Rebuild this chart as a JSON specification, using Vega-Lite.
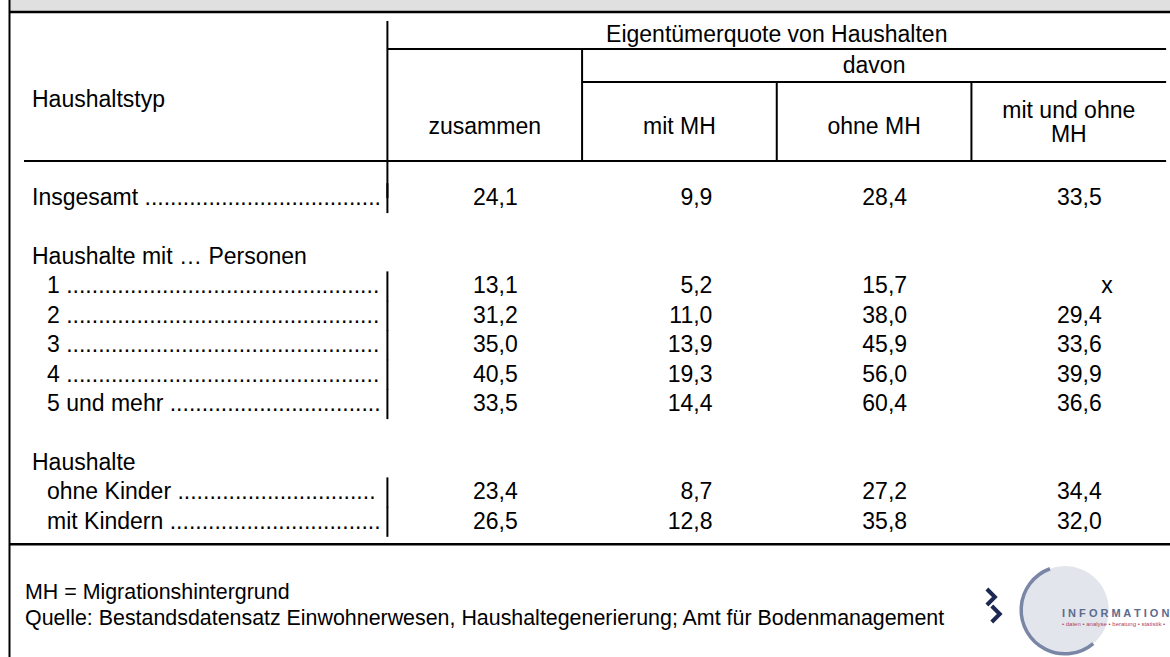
{
  "$schema": "https://vega.github.io/schema/vega-lite/v6.json",
  "width": 1170,
  "height": 657,
  "autosize": "none",
  "padding": 0,
  "background": "#ffffff",
  "config": {
    "view": {"stroke": null},
    "locale": {"number": {"decimal": ",", "thousands": ".", "grouping": [3], "currency": ["", " €"]}},
    "text": {"font": "Liberation Sans", "fontSize": 23, "color": "#000000", "baseline": "middle"},
    "rule": {"color": "#000000", "strokeWidth": 2}
  },
  "datasets": {
    "tabelle": [
      {"Haushaltstyp": "Insgesamt .....................................", "Ebene": 0, "Zeile": 0, "zusammen": 24.1, "mitMH": 9.9, "ohneMH": 28.4, "mitUndOhneMH": 33.5},
      {"Haushaltstyp": "Haushalte mit … Personen", "Ebene": 0, "Zeile": 2, "zusammen": null, "mitMH": null, "ohneMH": null, "mitUndOhneMH": null},
      {"Haushaltstyp": "1 .................................................", "Ebene": 1, "Zeile": 3, "zusammen": 13.1, "mitMH": 5.2, "ohneMH": 15.7, "mitUndOhneMH": null},
      {"Haushaltstyp": "2 .................................................", "Ebene": 1, "Zeile": 4, "zusammen": 31.2, "mitMH": 11.0, "ohneMH": 38.0, "mitUndOhneMH": 29.4},
      {"Haushaltstyp": "3 .................................................", "Ebene": 1, "Zeile": 5, "zusammen": 35.0, "mitMH": 13.9, "ohneMH": 45.9, "mitUndOhneMH": 33.6},
      {"Haushaltstyp": "4 .................................................", "Ebene": 1, "Zeile": 6, "zusammen": 40.5, "mitMH": 19.3, "ohneMH": 56.0, "mitUndOhneMH": 39.9},
      {"Haushaltstyp": "5 und mehr .................................", "Ebene": 1, "Zeile": 7, "zusammen": 33.5, "mitMH": 14.4, "ohneMH": 60.4, "mitUndOhneMH": 36.6},
      {"Haushaltstyp": "Haushalte", "Ebene": 0, "Zeile": 9, "zusammen": null, "mitMH": null, "ohneMH": null, "mitUndOhneMH": null},
      {"Haushaltstyp": "ohne Kinder ...............................", "Ebene": 1, "Zeile": 10, "zusammen": 23.4, "mitMH": 8.7, "ohneMH": 27.2, "mitUndOhneMH": 34.4},
      {"Haushaltstyp": "mit Kindern .................................", "Ebene": 1, "Zeile": 11, "zusammen": 26.5, "mitMH": 12.8, "ohneMH": 35.8, "mitUndOhneMH": 32.0}
    ]
  },
  "data": {"name": "tabelle"},
  "layer": [
    {
      "data": {"values": [{}]},
      "mark": {"type": "rect", "color": "#e0e0e0"},
      "encoding": {
        "x": {"datum": 0.0588, "type": "quantitative", "scale": {"domain": [0.01, 6.02], "nice": false, "zero": false}, "axis": null},
        "x2": {"datum": 6.02},
        "y": {"datum": -6.731, "type": "quantitative", "scale": {"domain": [-6.731, 15.593], "reverse": true, "nice": false, "zero": false}, "axis": null},
        "y2": {"datum": -6.3574}
      }
    },
    {
      "data": {"values": [{}]},
      "mark": {"type": "rule", "strokeWidth": 2.5},
      "encoding": {
        "x": {"datum": 0.0588, "type": "quantitative", "scale": {"domain": [0.01, 6.02], "nice": false, "zero": false}, "axis": null},
        "x2": {"datum": 6.02},
        "y": {"datum": -6.3235, "type": "quantitative", "scale": {"domain": [-6.731, 15.593], "reverse": true, "nice": false, "zero": false}, "axis": null}
      }
    },
    {
      "data": {"values": [{}]},
      "mark": {"type": "rule", "strokeWidth": 2},
      "encoding": {
        "x": {"datum": 0.0588, "type": "quantitative", "scale": {"domain": [0.01, 6.02], "nice": false, "zero": false}, "axis": null},
        "y": {"datum": -6.731, "type": "quantitative", "scale": {"domain": [-6.731, 15.593], "reverse": true, "nice": false, "zero": false}, "axis": null},
        "y2": {"datum": 15.593}
      }
    },
    {
      "data": {"values": [{}]},
      "mark": {"type": "rule", "strokeWidth": 2},
      "encoding": {
        "x": {"datum": 2, "type": "quantitative", "scale": {"domain": [0.01, 6.02], "nice": false, "zero": false}, "axis": null},
        "x2": {"datum": 6},
        "y": {"datum": -5.0663, "type": "quantitative", "scale": {"domain": [-6.731, 15.593], "reverse": true, "nice": false, "zero": false}, "axis": null}
      }
    },
    {
      "data": {"values": [{}]},
      "mark": {"type": "rule", "strokeWidth": 2},
      "encoding": {
        "x": {"datum": 3, "type": "quantitative", "scale": {"domain": [0.01, 6.02], "nice": false, "zero": false}, "axis": null},
        "x2": {"datum": 6},
        "y": {"datum": -3.945, "type": "quantitative", "scale": {"domain": [-6.731, 15.593], "reverse": true, "nice": false, "zero": false}, "axis": null}
      }
    },
    {
      "data": {"values": [{}]},
      "mark": {"type": "rule", "strokeWidth": 2},
      "encoding": {
        "x": {"datum": 0.1333, "type": "quantitative", "scale": {"domain": [0.01, 6.02], "nice": false, "zero": false}, "axis": null},
        "x2": {"datum": 6},
        "y": {"datum": -1.2606, "type": "quantitative", "scale": {"domain": [-6.731, 15.593], "reverse": true, "nice": false, "zero": false}, "axis": null}
      }
    },
    {
      "data": {"values": [{}]},
      "mark": {"type": "rule", "strokeWidth": 2},
      "encoding": {
        "x": {"datum": 2, "type": "quantitative", "scale": {"domain": [0.01, 6.02], "nice": false, "zero": false}, "axis": null},
        "y": {"datum": -6.0177, "type": "quantitative", "scale": {"domain": [-6.731, 15.593], "reverse": true, "nice": false, "zero": false}, "axis": null},
        "y2": {"datum": 0}
      }
    },
    {
      "data": {"values": [{}]},
      "mark": {"type": "rule", "strokeWidth": 2},
      "encoding": {
        "x": {"datum": 3, "type": "quantitative", "scale": {"domain": [0.01, 6.02], "nice": false, "zero": false}, "axis": null},
        "y": {"datum": -5.0663, "type": "quantitative", "scale": {"domain": [-6.731, 15.593], "reverse": true, "nice": false, "zero": false}, "axis": null},
        "y2": {"datum": -1.2606}
      }
    },
    {
      "data": {"values": [{}]},
      "mark": {"type": "rule", "strokeWidth": 2},
      "encoding": {
        "x": {"datum": 4, "type": "quantitative", "scale": {"domain": [0.01, 6.02], "nice": false, "zero": false}, "axis": null},
        "y": {"datum": -3.945, "type": "quantitative", "scale": {"domain": [-6.731, 15.593], "reverse": true, "nice": false, "zero": false}, "axis": null},
        "y2": {"datum": -1.2606}
      }
    },
    {
      "data": {"values": [{}]},
      "mark": {"type": "rule", "strokeWidth": 2},
      "encoding": {
        "x": {"datum": 5, "type": "quantitative", "scale": {"domain": [0.01, 6.02], "nice": false, "zero": false}, "axis": null},
        "y": {"datum": -3.945, "type": "quantitative", "scale": {"domain": [-6.731, 15.593], "reverse": true, "nice": false, "zero": false}, "axis": null},
        "y2": {"datum": -1.2606}
      }
    },
    {
      "data": {"values": [{}]},
      "mark": {"type": "rule", "strokeWidth": 2.5},
      "encoding": {
        "x": {"datum": 0.0588, "type": "quantitative", "scale": {"domain": [0.01, 6.02], "nice": false, "zero": false}, "axis": null},
        "x2": {"datum": 6.02},
        "y": {"datum": 11.7626, "type": "quantitative", "scale": {"domain": [-6.731, 15.593], "reverse": true, "nice": false, "zero": false}, "axis": null}
      }
    },
    {
      "transform": [{"filter": {"field": "zusammen", "valid": true}}],
      "mark": {"type": "tick", "orient": "vertical", "thickness": 2, "size": 30, "color": "#000000", "opacity": 1},
      "encoding": {
        "x": {"datum": 2, "type": "quantitative", "scale": {"domain": [0.01, 6.02], "nice": false, "zero": false}, "axis": null},
        "y": {"field": "Zeile", "type": "quantitative", "scale": {"domain": [-6.731, 15.593], "reverse": true, "nice": false, "zero": false}, "axis": null}
      }
    },
    {
      "data": {"values": [{}]},
      "mark": {"type": "text", "align": "center"},
      "encoding": {
        "x": {"datum": 4, "type": "quantitative", "scale": {"domain": [0.01, 6.02], "nice": false, "zero": false}, "axis": null},
        "y": {"datum": -5.542, "type": "quantitative", "scale": {"domain": [-6.731, 15.593], "reverse": true, "nice": false, "zero": false}, "axis": null},
        "text": {"value": "Eigentümerquote von Haushalten"}
      }
    },
    {
      "data": {"values": [{}]},
      "mark": {"type": "text", "align": "center"},
      "encoding": {
        "x": {"datum": 4.5, "type": "quantitative", "scale": {"domain": [0.01, 6.02], "nice": false, "zero": false}, "axis": null},
        "y": {"datum": -4.4886, "type": "quantitative", "scale": {"domain": [-6.731, 15.593], "reverse": true, "nice": false, "zero": false}, "axis": null},
        "text": {"value": "davon"}
      }
    },
    {
      "data": {"values": [{}]},
      "mark": {"type": "text", "align": "left"},
      "encoding": {
        "x": {"datum": 0.1744, "type": "quantitative", "scale": {"domain": [0.01, 6.02], "nice": false, "zero": false}, "axis": null},
        "y": {"datum": -3.3333, "type": "quantitative", "scale": {"domain": [-6.731, 15.593], "reverse": true, "nice": false, "zero": false}, "axis": null},
        "text": {"value": "Haushaltstyp"}
      }
    },
    {
      "data": {"values": [{}]},
      "mark": {"type": "text", "align": "center"},
      "encoding": {
        "x": {"datum": 2.5, "type": "quantitative", "scale": {"domain": [0.01, 6.02], "nice": false, "zero": false}, "axis": null},
        "y": {"datum": -2.4159, "type": "quantitative", "scale": {"domain": [-6.731, 15.593], "reverse": true, "nice": false, "zero": false}, "axis": null},
        "text": {"value": "zusammen"}
      }
    },
    {
      "data": {"values": [{}]},
      "mark": {"type": "text", "align": "center"},
      "encoding": {
        "x": {"datum": 3.5, "type": "quantitative", "scale": {"domain": [0.01, 6.02], "nice": false, "zero": false}, "axis": null},
        "y": {"datum": -2.4159, "type": "quantitative", "scale": {"domain": [-6.731, 15.593], "reverse": true, "nice": false, "zero": false}, "axis": null},
        "text": {"value": "mit MH"}
      }
    },
    {
      "data": {"values": [{}]},
      "mark": {"type": "text", "align": "center"},
      "encoding": {
        "x": {"datum": 4.5, "type": "quantitative", "scale": {"domain": [0.01, 6.02], "nice": false, "zero": false}, "axis": null},
        "y": {"datum": -2.4159, "type": "quantitative", "scale": {"domain": [-6.731, 15.593], "reverse": true, "nice": false, "zero": false}, "axis": null},
        "text": {"value": "ohne MH"}
      }
    },
    {
      "data": {"values": [{}]},
      "mark": {"type": "text", "align": "center", "lineHeight": 24},
      "encoding": {
        "x": {"datum": 5.5, "type": "quantitative", "scale": {"domain": [0.01, 6.02], "nice": false, "zero": false}, "axis": null},
        "y": {"datum": -2.96, "type": "quantitative", "scale": {"domain": [-6.731, 15.593], "reverse": true, "nice": false, "zero": false}, "axis": null},
        "text": {"value": ["mit und ohne", "MH"]}
      }
    },
    {
      "transform": [{"filter": "datum.Ebene === 0"}],
      "mark": {"type": "text", "align": "left"},
      "encoding": {
        "x": {"datum": 0.1744, "type": "quantitative", "scale": {"domain": [0.01, 6.02], "nice": false, "zero": false}, "axis": null},
        "y": {"field": "Zeile", "type": "quantitative", "scale": {"domain": [-6.731, 15.593], "reverse": true, "nice": false, "zero": false}, "axis": null},
        "text": {"field": "Haushaltstyp"}
      }
    },
    {
      "transform": [{"filter": "datum.Ebene === 1"}],
      "mark": {"type": "text", "align": "left"},
      "encoding": {
        "x": {"datum": 0.2514, "type": "quantitative", "scale": {"domain": [0.01, 6.02], "nice": false, "zero": false}, "axis": null},
        "y": {"field": "Zeile", "type": "quantitative", "scale": {"domain": [-6.731, 15.593], "reverse": true, "nice": false, "zero": false}, "axis": null},
        "text": {"field": "Haushaltstyp"}
      }
    },
    {
      "transform": [{"filter": {"field": "zusammen", "valid": true}}],
      "mark": {"type": "text", "align": "right", "dx": 33},
      "encoding": {
        "x": {"datum": 2.5, "type": "quantitative", "scale": {"domain": [0.01, 6.02], "nice": false, "zero": false}, "axis": null},
        "y": {"field": "Zeile", "type": "quantitative", "scale": {"domain": [-6.731, 15.593], "reverse": true, "nice": false, "zero": false}, "axis": null},
        "text": {"field": "zusammen", "type": "quantitative", "format": ".1f"}
      }
    },
    {
      "transform": [{"filter": {"field": "zusammen", "valid": true}}],
      "mark": {"type": "text", "align": "right", "dx": 33},
      "encoding": {
        "x": {"datum": 3.5, "type": "quantitative", "scale": {"domain": [0.01, 6.02], "nice": false, "zero": false}, "axis": null},
        "y": {"field": "Zeile", "type": "quantitative", "scale": {"domain": [-6.731, 15.593], "reverse": true, "nice": false, "zero": false}, "axis": null},
        "text": {"field": "mitMH", "type": "quantitative", "format": ".1f"}
      }
    },
    {
      "transform": [{"filter": {"field": "zusammen", "valid": true}}],
      "mark": {"type": "text", "align": "right", "dx": 33},
      "encoding": {
        "x": {"datum": 4.5, "type": "quantitative", "scale": {"domain": [0.01, 6.02], "nice": false, "zero": false}, "axis": null},
        "y": {"field": "Zeile", "type": "quantitative", "scale": {"domain": [-6.731, 15.593], "reverse": true, "nice": false, "zero": false}, "axis": null},
        "text": {"field": "ohneMH", "type": "quantitative", "format": ".1f"}
      }
    },
    {
      "transform": [{"filter": {"field": "mitUndOhneMH", "valid": true}}],
      "mark": {"type": "text", "align": "right", "dx": 33},
      "encoding": {
        "x": {"datum": 5.5, "type": "quantitative", "scale": {"domain": [0.01, 6.02], "nice": false, "zero": false}, "axis": null},
        "y": {"field": "Zeile", "type": "quantitative", "scale": {"domain": [-6.731, 15.593], "reverse": true, "nice": false, "zero": false}, "axis": null},
        "text": {"field": "mitUndOhneMH", "type": "quantitative", "format": ".1f"}
      }
    },
    {
      "transform": [{"filter": "isValid(datum.zusammen) && datum.mitUndOhneMH === null"}],
      "mark": {"type": "text", "align": "right", "dx": 44},
      "encoding": {
        "x": {"datum": 5.5, "type": "quantitative", "scale": {"domain": [0.01, 6.02], "nice": false, "zero": false}, "axis": null},
        "y": {"field": "Zeile", "type": "quantitative", "scale": {"domain": [-6.731, 15.593], "reverse": true, "nice": false, "zero": false}, "axis": null},
        "text": {"value": "x"}
      }
    },
    {
      "data": {"values": [{}]},
      "mark": {"type": "text", "align": "left", "fontSize": 21.4},
      "encoding": {
        "x": {"datum": 0.1384, "type": "quantitative", "scale": {"domain": [0.01, 6.02], "nice": false, "zero": false}, "axis": null},
        "y": {"datum": 13.418, "type": "quantitative", "scale": {"domain": [-6.731, 15.593], "reverse": true, "nice": false, "zero": false}, "axis": null},
        "text": {"value": "MH = Migrationshintergrund"}
      }
    },
    {
      "data": {"values": [{}]},
      "mark": {"type": "text", "align": "left", "fontSize": 21.4},
      "encoding": {
        "x": {"datum": 0.1384, "type": "quantitative", "scale": {"domain": [0.01, 6.02], "nice": false, "zero": false}, "axis": null},
        "y": {"datum": 14.30, "type": "quantitative", "scale": {"domain": [-6.731, 15.593], "reverse": true, "nice": false, "zero": false}, "axis": null},
        "text": {"value": "Quelle:  Bestandsdatensatz Einwohnerwesen, Haushaltegenerierung; Amt für Bodenmanagement"}
      }
    },
    {
      "data": {"values": [{}]},
      "mark": {"type": "point", "shape": "circle", "filled": true, "color": "#e3e5ec", "opacity": 1, "size": 7700},
      "encoding": {
        "x": {"datum": 5.4806, "type": "quantitative", "scale": {"domain": [0.01, 6.02], "nice": false, "zero": false}, "axis": null},
        "y": {"datum": 13.996, "type": "quantitative", "scale": {"domain": [-6.731, 15.593], "reverse": true, "nice": false, "zero": false}, "axis": null}
      }
    },
    {
      "data": {"values": [{}]},
      "mark": {"type": "point", "shape": "M -0.342 -0.94 A 1 1 0 1 0 0.643 0.766", "filled": false, "stroke": "#7a86a6", "strokeWidth": 3.5, "opacity": 1, "size": 7700},
      "encoding": {
        "x": {"datum": 5.4806, "type": "quantitative", "scale": {"domain": [0.01, 6.02], "nice": false, "zero": false}, "axis": null},
        "y": {"datum": 13.996, "type": "quantitative", "scale": {"domain": [-6.731, 15.593], "reverse": true, "nice": false, "zero": false}, "axis": null}
      }
    },
    {
      "data": {"values": [{}]},
      "mark": {"type": "point", "shape": "M -0.5 -1 L 0.5 0 L -0.5 1", "filled": false, "stroke": "#1c2753", "strokeWidth": 4, "opacity": 1, "size": 256},
      "encoding": {
        "x": {"datum": 5.1, "type": "quantitative", "scale": {"domain": [0.01, 6.02], "nice": false, "zero": false}, "axis": null},
        "y": {"datum": 13.554, "type": "quantitative", "scale": {"domain": [-6.731, 15.593], "reverse": true, "nice": false, "zero": false}, "axis": null}
      }
    },
    {
      "data": {"values": [{}]},
      "mark": {"type": "point", "shape": "M -0.5 -1 L 0.5 0 L -0.5 1", "filled": false, "stroke": "#1c2753", "strokeWidth": 4, "opacity": 1, "size": 256},
      "encoding": {
        "x": {"datum": 5.125, "type": "quantitative", "scale": {"domain": [0.01, 6.02], "nice": false, "zero": false}, "axis": null},
        "y": {"datum": 14.132, "type": "quantitative", "scale": {"domain": [-6.731, 15.593], "reverse": true, "nice": false, "zero": false}, "axis": null}
      }
    },
    {
      "data": {"values": [{}]},
      "mark": {"type": "text", "align": "left", "fontSize": 11, "fontWeight": "bold", "color": "#5b6b8e"},
      "encoding": {
        "x": {"datum": 5.4652, "type": "quantitative", "scale": {"domain": [0.01, 6.02], "nice": false, "zero": false}, "axis": null},
        "y": {"datum": 14.132, "type": "quantitative", "scale": {"domain": [-6.731, 15.593], "reverse": true, "nice": false, "zero": false}, "axis": null},
        "text": {"value": "I N F O R M A T I O N"}
      }
    },
    {
      "data": {"values": [{}]},
      "mark": {"type": "text", "align": "left", "fontSize": 6, "color": "#b5435a"},
      "encoding": {
        "x": {"datum": 5.4652, "type": "quantitative", "scale": {"domain": [0.01, 6.02], "nice": false, "zero": false}, "axis": null},
        "y": {"datum": 14.472, "type": "quantitative", "scale": {"domain": [-6.731, 15.593], "reverse": true, "nice": false, "zero": false}, "axis": null},
        "text": {"value": "• daten • analyse • beratung • statistik •"}
      }
    }
  ]
}
